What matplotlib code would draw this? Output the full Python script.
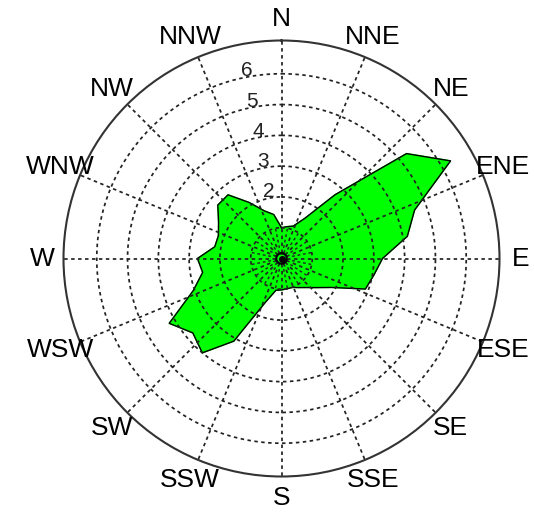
import numpy as np
import matplotlib
matplotlib.use("Agg")
import matplotlib.pyplot as plt

# ---- data ----
directions_deg = list(range(0, 360, 10))
frequency = [1.0, 1.05, 1.12, 1.5, 2.7, 5.3, 6.34, 4.6, 4.15, 3.28, 3.05, 2.9,
             1.88, 1.47, 1.23, 1.09, 1.0, 1.0, 1.02, 1.05, 1.5, 3.1, 4.0, 3.76,
             4.21, 3.05, 2.6, 2.73, 2.2, 2.18, 2.36, 2.7, 2.7, 2.1, 1.65, 1.45]
compass_labels = ["N", "NNE", "NE", "ENE", "E", "ESE", "SE", "SSE",
                  "S", "SSW", "SW", "WSW", "W", "WNW", "NW", "NNW"]
ring_values = [1, 2, 3, 4, 5, 6]
ring_labels = ["2", "3", "4", "5", "6"]

RMAX = 7.08
W, H = 534, 512
cx, cy, R = 281.5, 258.5, 218.0

fig = plt.figure(figsize=(W / 100, H / 100), dpi=100)
ax = fig.add_axes([(cx - R) / W, (H - cy - R) / H, 2 * R / W, 2 * R / H],
                  projection="polar")
ax.set_theta_zero_location("N")
ax.set_theta_direction(-1)
ax.set_ylim(0, RMAX)
ax.grid(False)
ax.set_xticks([])
ax.set_yticks([])
ax.spines["polar"].set_color("#333333")
ax.spines["polar"].set_linewidth(1.5)

# polygon
th = np.deg2rad(np.array(directions_deg + [directions_deg[0]], dtype=float))
rr = np.array(frequency + [frequency[0]])
ax.fill(th, rr, color="#00ff00", zorder=1)
ax.plot(th, rr, color="black", lw=1.0, zorder=2)

dash = (0, (2.0, 2.0))
gcol = "#222222"
tt = np.linspace(0, 2 * np.pi, 400)
for rv in ring_values:
    ax.plot(tt, np.full_like(tt, rv), color=gcol, lw=1.25, linestyle=dash, zorder=3)

r0 = 0.17
for k in range(16):
    a = np.deg2rad(k * 22.5)
    ax.plot([a, a], [r0, RMAX], color=gcol, lw=1.25, linestyle=dash, zorder=3)
    b = np.deg2rad(k * 22.5 + 11.25)
    ax.plot([b, b], [0.35, 1.0], color=gcol, lw=1.0, linestyle=dash, zorder=3)

# center ring and dot
ax.plot(tt, np.full_like(tt, r0), color="black", lw=1.5, zorder=4)
ax.plot([0], [0], marker="o", color="black", markersize=4, zorder=5)

# compass labels
for k, lab in enumerate(compass_labels):
    ax.text(np.deg2rad(k * 22.5), 7.78, lab, ha="center", va="center",
            fontsize=19, family="Liberation Sans", color="black", clip_on=False)

# ring labels
for lab in ring_labels:
    v = float(lab)
    ax.text(np.deg2rad(-10.5), v + 0.2, lab, ha="center", va="center",
            fontsize=15, family="Liberation Sans", color="#222222", zorder=6)

fig.savefig("out.png", dpi=100)
